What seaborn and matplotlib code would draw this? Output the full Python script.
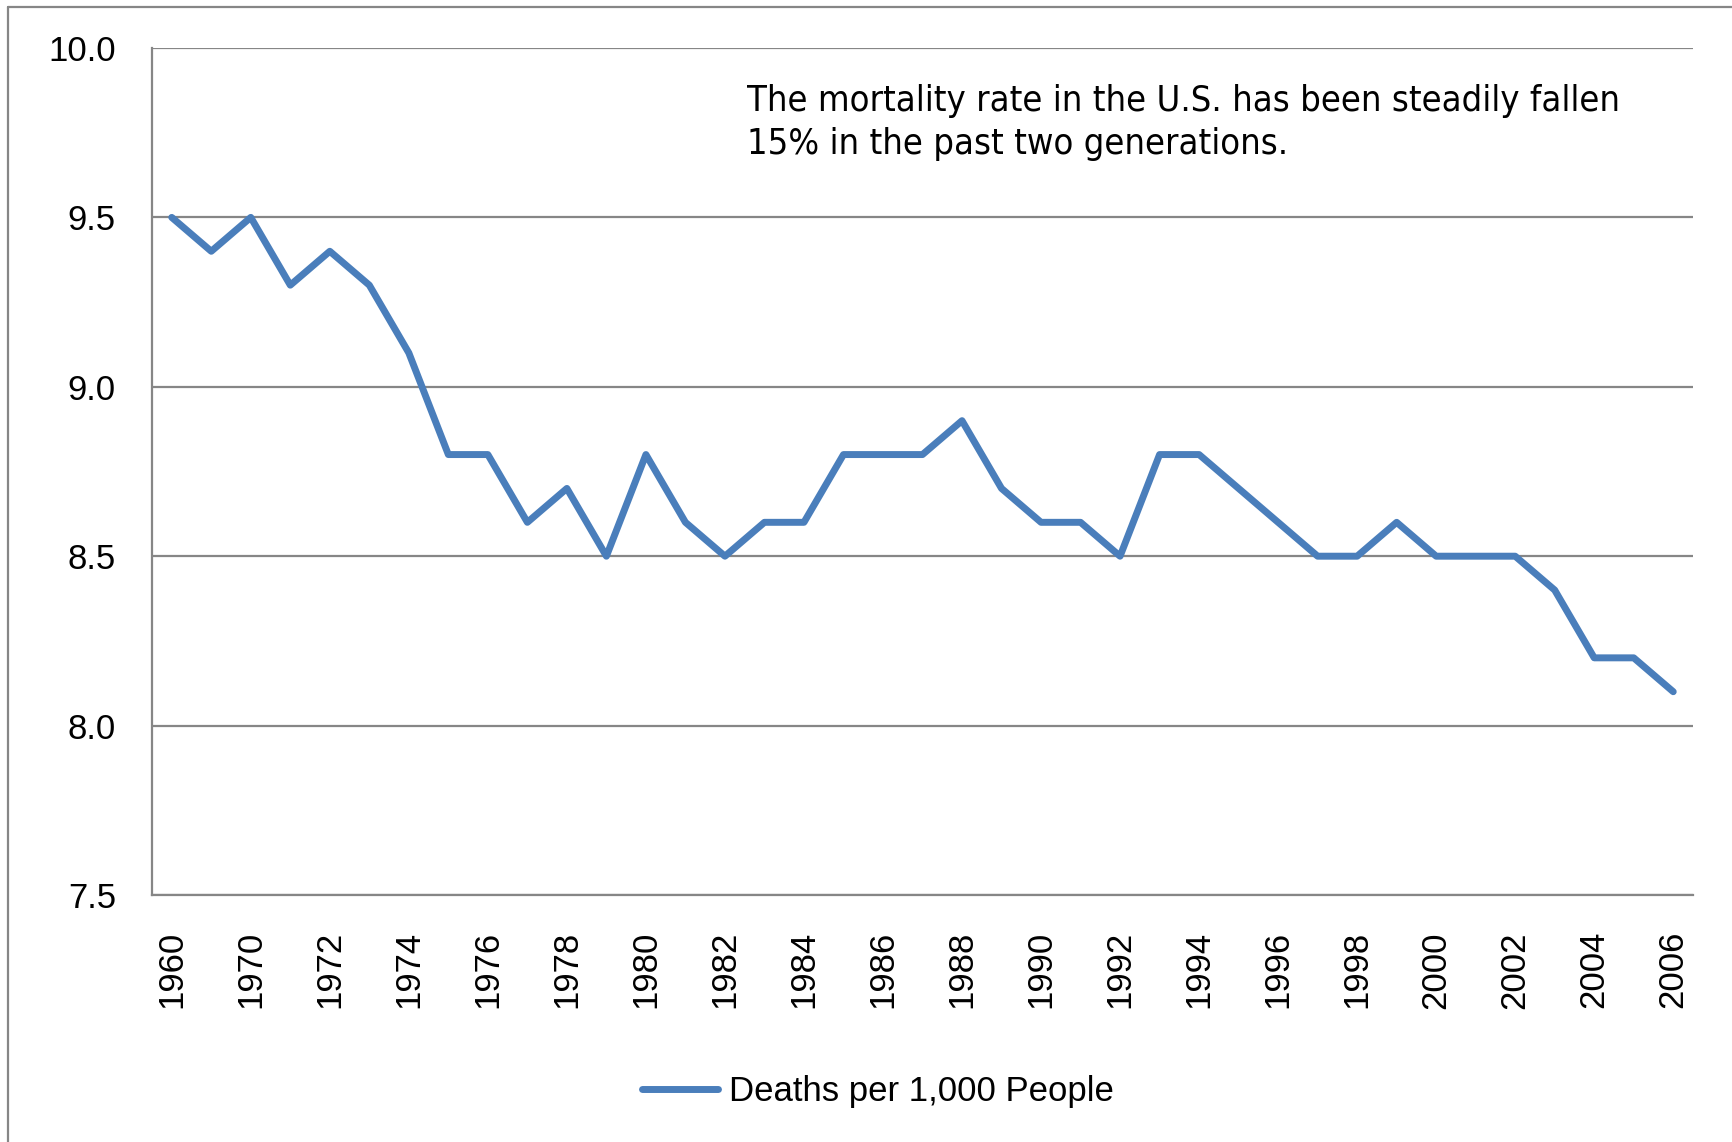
import matplotlib
matplotlib.use("Agg")
import matplotlib.pyplot as plt
from matplotlib.lines import Line2D
import seaborn as sns
import pandas as pd
import numpy as np

years = ["1960", "1965", "1970", "1971", "1972", "1973", "1974", "1975", "1976", "1977",
         "1978", "1979", "1980", "1981", "1982", "1983", "1984", "1985", "1986", "1987",
         "1988", "1989", "1990", "1991", "1992", "1993", "1994", "1995", "1996", "1997",
         "1998", "1999", "2000", "2001", "2002", "2003", "2004", "2005", "2006"]
deaths = [9.5, 9.4, 9.5, 9.3, 9.4, 9.3, 9.1, 8.8, 8.8, 8.6,
          8.7, 8.5, 8.8, 8.6, 8.5, 8.6, 8.6, 8.8, 8.8, 8.8,
          8.9, 8.7, 8.6, 8.6, 8.5, 8.8, 8.8, 8.7, 8.6, 8.5,
          8.5, 8.6, 8.5, 8.5, 8.5, 8.4, 8.2, 8.2, 8.1]
shown_labels = ["1960", "1970", "1972", "1974", "1976", "1978", "1980", "1982", "1984",
                "1986", "1988", "1990", "1992", "1994", "1996", "1998", "2000", "2002",
                "2004", "2006"]
yticks = [7.5, 8.0, 8.5, 9.0, 9.5, 10.0]
series_name = "Deaths per 1,000 People"
note = "The mortality rate in the U.S. has been steadily fallen\n15% in the past two generations."

sns.set_theme(style="white")
plt.rcParams['font.family'] = ['Liberation Sans', 'DejaVu Sans']
plt.rcParams['text.color'] = 'black'
plt.rcParams['xtick.color'] = 'black'
plt.rcParams['ytick.color'] = 'black'

df = pd.DataFrame({"pos": np.arange(len(years)), "year": years, "value": deaths,
                   "series": series_name})

W, H = 1732, 1142
fig = plt.figure(figsize=(W / 100, H / 100), dpi=100)
ax = fig.add_axes([152 / W, 1 - 895 / H, (1693 - 152) / W, (895 - 48) / H])

sns.lineplot(data=df, x="pos", y="value", hue="series", palette=["#4A7EBB"],
             linewidth=5, ax=ax)

ax.set_xlim(-0.5, len(years) - 0.5)
ax.set_ylim(7.5, 10.0)
ax.set_yticks(yticks)
ax.set_yticklabels([f"{v:.1f}" for v in yticks], fontsize=25)
pos = [years.index(y) for y in shown_labels]
ax.set_xticks(pos)
ax.set_xticklabels(shown_labels, rotation=90, fontsize=25)
ax.tick_params(axis="x", pad=26, length=0)
ax.tick_params(axis="y", pad=26, length=0)
ax.set_xlabel("")
ax.set_ylabel("")
ax.yaxis.grid(True, color="#868686", linewidth=1.6)
ax.xaxis.grid(False)
ax.set_axisbelow(True)
for s in ["top", "right"]:
    ax.spines[s].set_visible(False)
for s in ["left", "bottom"]:
    ax.spines[s].set_color("#868686")
    ax.spines[s].set_linewidth(1.6)

ax.text(0.386, 0.957, note, transform=ax.transAxes, fontsize=26,
        family=['DejaVu Sans'], fontstretch='condensed', va="top", ha="left",
        linespacing=1.3, color="black")

leg = ax.legend(loc="center", bbox_to_anchor=(0.471, -0.232), frameon=False,
                fontsize=25, handlelength=2.2, handletextpad=0.3)
leg.set_title(None)
for lh in leg.get_lines():
    lh.set_linewidth(5)

fig.add_artist(Line2D([8 / W, 8 / W], [0, 1 - 7 / H], color="#868686", linewidth=1.6))
fig.add_artist(Line2D([8 / W, 1], [1 - 7 / H, 1 - 7 / H], color="#868686", linewidth=1.6))

fig.savefig("out.png", dpi=100)
